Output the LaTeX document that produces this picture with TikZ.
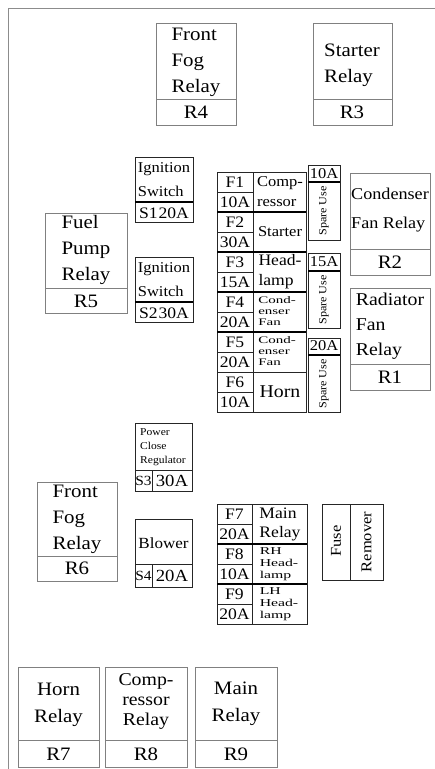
\documentclass[tikz,border=0pt]{standalone}
\usepackage{fontspec}
\setmainfont[FakeStretch=1.1]{Liberation Serif}
\newfontfamily\widefont[FakeStretch=1.5]{Liberation Serif}
\newcommand{\fsz}[2]{\fontsize{#1}{#2}\selectfont}

\tikzset{
  relaybox/.style={draw=black!50, line width=0.8pt},
  fusebox/.style={draw=black!85, line width=0.9pt},
  grpline/.style={draw=black, line width=1.6pt},
  txt/.style={inner sep=0pt, align=center},
  relaytxt/.style={txt, align=left, font=\fsz{19}{26}},
  relaynum/.style={txt, font=\fsz{19}{22}},
  fusetxt/.style={txt, font=\fsz{16}{16}},
  smalltxt/.style={txt, align=left, font=\widefont\fsz{10}{11}},
  spare/.style={txt, rotate=90, font=\fsz{11}{12}},
}

\begin{document}
\begin{tikzpicture}[x=1pt, y=-1pt]
  \useasboundingbox (0,0) rectangle (435,769);

  % Outer frame
  \draw[black!45, line width=1pt] (435,8) -- (8,8) -- (8,769);

  % Relay R4: Front Fog
  \draw[relaybox] (156,23) rectangle (236,125);
  \draw[relaybox] (156,99) -- (236,99);
  \node[relaytxt] (r4name) at (196,62) {Front\\Fog\\Relay};
  \node[relaynum] (r4) at (196,112) {R4};

  % Relay R3: Starter
  \draw[relaybox] (313,23) rectangle (392,125);
  \draw[relaybox] (313,99) -- (392,99);
  \node[relaytxt] (r3name) at (352,65) {Starter\\Relay};
  \node[relaynum] (r3) at (352,112) {R3};

  % Relay R5: Fuel Pump
  \draw[relaybox] (45,213) rectangle (127,313);
  \draw[relaybox] (45,288) -- (127,288);
  \node[relaytxt] (r5name) at (86,250) {Fuel\\Pump\\Relay};
  \node[relaynum] (r5) at (86,301) {R5};

  % Relay R2: Condenser Fan
  \draw[relaybox] (350,173) rectangle (430,275);
  \draw[relaybox] (350,249) -- (430,249);
  \node[txt, align=left, font=\fsz{16.5}{29}] (r2name) at (390,210) {Condenser\\Fan Relay};
  \node[relaynum] (r2) at (390,262) {R2};

  % Relay R1: Radiator Fan
  \draw[relaybox] (350,288) rectangle (430,390);
  \draw[relaybox] (350,364) -- (430,364);
  \node[relaytxt, font=\fsz{18}{25}] (r1name) at (390,326) {Radiator\\Fan\\Relay};
  \node[relaynum] (r1) at (390,377) {R1};

  % Relay R6: Front Fog
  \draw[relaybox] (37,482) rectangle (117,581);
  \draw[relaybox] (37,556) -- (117,556);
  \node[relaytxt] (r6name) at (77,519) {Front\\Fog\\Relay};
  \node[relaynum] (r6) at (77,568) {R6};

  % Relays R7-R9 (bottom row)
  \draw[relaybox] (18,667) rectangle (99,767);
  \draw[relaybox] (18,740) -- (99,740);
  \node[txt, font=\fsz{19}{27}] (r7name) at (58.5,705) {Horn\\Relay};
  \node[relaynum] (r7) at (58.5,754) {R7};

  \draw[relaybox] (105,667) rectangle (187,767);
  \draw[relaybox] (105,740) -- (187,740);
  \node[txt, font=\fsz{18}{20}] (r8name) at (146,701) {Comp-\\ressor\\Relay};
  \node[relaynum] (r8) at (146,754) {R8};

  \draw[relaybox] (195,667) rectangle (277,767);
  \draw[relaybox] (195,740) -- (277,740);
  \node[txt, font=\fsz{19}{27}] (r9name) at (236,704) {Main\\Relay};
  \node[relaynum] (r9) at (236,754) {R9};

  % Switch fuses S1-S4
  \draw[fusebox] (135,157) rectangle (193,222);
  \draw[grpline, line width=1.2pt] (135,202) -- (193,202);
  \node[txt, align=left, font=\fsz{15}{24}] (s1name) at (164,180) {Ignition\\Switch};
  \node[txt, font=\fsz{16}{16}] (s1) at (164,213) {S1\kern1pt 20A};

  \draw[fusebox] (135,257) rectangle (193,322);
  \draw[grpline, line width=1.2pt] (135,302) -- (193,302);
  \node[txt, align=left, font=\fsz{15}{24}] (s2name) at (164,280) {Ignition\\Switch};
  \node[txt, font=\fsz{16}{16}] (s2) at (164,313) {S2\kern1pt 30A};

  \draw[fusebox] (135,423) rectangle (192,491);
  \draw[fusebox] (135,470) -- (192,470);
  \draw[fusebox] (152,470) -- (152,491);
  \node[txt, align=left, font=\fsz{10.5}{14}] (s3name) at (163,447) {Power\\Close\\Regulator};
  \node[txt, font=\fsz{14}{14}] (s3) at (143.5,481) {S3};
  \node[txt, font=\fsz{17}{17}] (s3amp) at (172,481) {30A};

  \draw[fusebox] (135,519) rectangle (192,587);
  \draw[fusebox] (135,564) -- (192,564);
  \draw[fusebox] (152,564) -- (152,587);
  \node[txt, font=\fsz{15.5}{16}] (s4name) at (163.5,543) {Blower};
  \node[txt, font=\fsz{14}{14}] (s4) at (143.5,576) {S4};
  \node[txt, font=\fsz{17}{17}] (s4amp) at (172,576) {20A};

  % Fuses F1-F6
  \draw[fusebox] (217,172) rectangle (306,412);
  \draw[fusebox] (253,172) -- (253,412);
  \foreach \y in {192,232,272,312,352,392}
    \draw[fusebox] (217,\y) -- (253,\y);
  \foreach \y in {212,252,292,332}
    \draw[grpline] (217,\y) -- (306,\y);
  \draw[fusebox] (217,372) -- (306,372);
  \foreach \n/\a [count=\i from 0] in {F1/10A,F2/30A,F3/15A,F4/20A,F5/20A,F6/10A} {
    \node[fusetxt] (fuse\n) at (235,182+40*\i) {\n};
    \node[fusetxt] (amp\n) at (235,202+40*\i) {\a};
  }
  \node[txt, align=left, font=\fsz{15}{20}] (descF1) at (280,192) {Comp-\\ressor};
  \node[txt, font=\fsz{15}{16}] (descF2) at (280,232) {Starter};
  \node[txt, align=left, font=\fsz{16}{20}] (descF3) at (280,272) {Head-\\lamp};
  \node[smalltxt] (descF4) at (277,311) {Cond-\\enser\\Fan};
  \node[smalltxt] (descF5) at (277,351) {Cond-\\enser\\Fan};
  \node[txt, font=\fsz{18}{18}] (descF6) at (280,392) {Horn};

  % Spare fuses
  \draw[fusebox] (308,165) rectangle (340,240);
  \draw[grpline] (308,182) -- (340,182);
  \node[fusetxt, font=\fsz{15}{15}] (spare1amp) at (324,174) {10A};
  \node[spare] (spare1) at (324,211) {Spare Use};

  \draw[fusebox] (308,253) rectangle (340,328);
  \draw[grpline] (308,271) -- (340,271);
  \node[fusetxt, font=\fsz{15}{15}] (spare2amp) at (324,262) {15A};
  \node[spare] (spare2) at (324,300) {Spare Use};

  \draw[fusebox] (308,338) rectangle (340,412);
  \draw[grpline] (308,355) -- (340,355);
  \node[fusetxt, font=\fsz{15}{15}] (spare3amp) at (324,346) {20A};
  \node[spare] (spare3) at (324,384) {Spare Use};

  % Fuses F7-F9
  \draw[fusebox] (217,504) rectangle (307,624);
  \draw[fusebox] (252,504) -- (252,624);
  \foreach \y in {524,564,604}
    \draw[fusebox] (217,\y) -- (252,\y);
  \foreach \y in {544,584}
    \draw[grpline] (217,\y) -- (307,\y);
  \foreach \n/\a [count=\i from 0] in {F7/20A,F8/10A,F9/20A} {
    \node[fusetxt] (fuse\n) at (234.5,514+40*\i) {\n};
    \node[fusetxt] (amp\n) at (234.5,534+40*\i) {\a};
  }
  \node[txt, align=left, font=\fsz{16}{19}] (descF7) at (280,524) {Main\\Relay};
  \node[txt, align=left, font=\widefont\fsz{10.5}{12}] (descF8) at (279,564) {RH\\Head-\\lamp};
  \node[txt, align=left, font=\widefont\fsz{10.5}{12}] (descF9) at (279,604) {LH\\Head-\\lamp};

  % Fuse remover
  \draw[fusebox] (322,504) rectangle (383,580);
  \draw[fusebox] (350,504) -- (350,580);
  \node[txt, rotate=90, font=\fsz{15}{15}] (fuse) at (336,541) {Fuse};
  \node[txt, rotate=90, font=\fsz{15}{15}] (remover) at (366.5,542) {Remover};
\end{tikzpicture}
\end{document}
